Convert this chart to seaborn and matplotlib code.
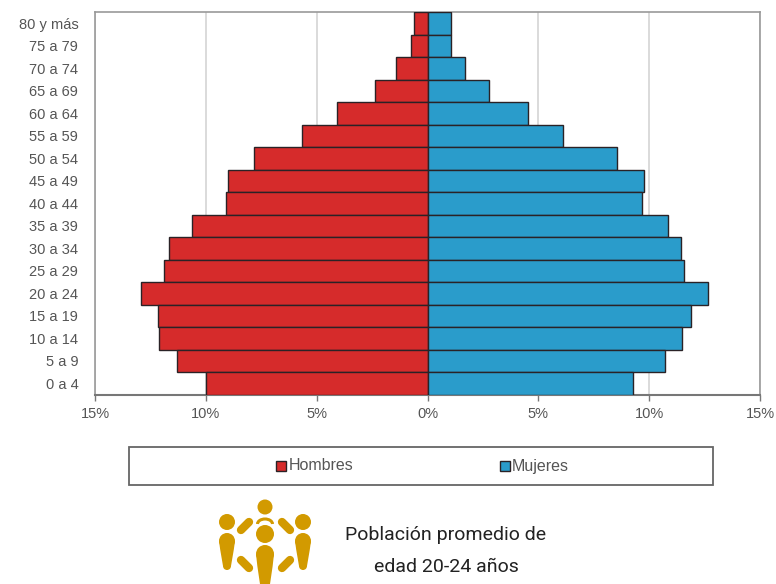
import matplotlib
matplotlib.use("Agg")
import matplotlib.pyplot as plt
from matplotlib.patches import Circle, Polygon, Rectangle, Arc
from matplotlib.lines import Line2D
import pandas as pd
import seaborn as sns

# Values, % of population
age_groups = ["80 y más", "75 a 79", "70 a 74", "65 a 69", "60 a 64", "55 a 59",
              "50 a 54", "45 a 49", "40 a 44", "35 a 39", "30 a 34", "25 a 29",
              "20 a 24", "15 a 19", "10 a 14", "5 a 9", "0 a 4"]
hombres = [0.6, 0.75, 1.4, 2.35, 4.07, 5.65, 7.83, 9.0, 9.1, 10.63, 11.67, 11.9,
           12.93, 12.17, 12.12, 11.3, 10.0]
mujeres = [1.05, 1.05, 1.7, 2.77, 4.54, 6.12, 8.56, 9.78, 9.69, 10.86, 11.45, 11.58,
           12.67, 11.9, 11.5, 10.73, 9.28]
x_ticks = [-15, -10, -5, 0, 5, 10, 15]
x_labels = ["15%", "10%", "5%", "0%", "5%", "10%", "15%"]

RED = "#d62b2b"
BLUE = "#2a9ccb"
GOLD = "#d29a00"
TEXT = "#555555"
W, H = 776, 584

sns.set_theme(style="white")
plt.rcParams["font.family"] = ["Liberation Sans", "DejaVu Sans"]

df = pd.DataFrame({
    "edad": age_groups * 2,
    "valor": [-v for v in hombres] + mujeres,
    "sexo": ["Hombres"] * len(hombres) + ["Mujeres"] * len(mujeres),
})

fig = plt.figure(figsize=(W / 100, H / 100), dpi=100)
ax = fig.add_axes([95 / W, 1 - 394.5 / H, 665 / W, 382.5 / H])
sns.barplot(data=df, x="valor", y="edad", hue="sexo", order=age_groups, orient="h",
            dodge=False, width=1.0, saturation=1, palette={"Hombres": RED, "Mujeres": BLUE},
            edgecolor="#2a2226", linewidth=1.0, legend=False, zorder=3, ax=ax)

ax.set_xlim(-15, 15)
ax.set_ylim(16.5, -0.5)
ax.set_xlabel("")
ax.set_ylabel("")
ax.set_xticks(x_ticks)
ax.set_xticklabels(x_labels)
ax.grid(axis="x", color="#d4d4d4", linewidth=1.2, zorder=0)
ax.grid(axis="y", visible=False)
ax.tick_params(axis="x", bottom=True, length=4, width=1, color="#777777",
               labelsize=10.5, labelcolor=TEXT, pad=5)
ax.tick_params(axis="y", left=False, labelsize=10.5, labelcolor=TEXT, pad=6)
for name, spine in ax.spines.items():
    spine.set_color("#999999")
    spine.set_linewidth(1.2)
ax.spines["bottom"].set_color("#777777")
ax.spines["bottom"].set_linewidth(1.5)

# overlay in pixel coordinates for legend box and icon
ov = fig.add_axes([0, 0, 1, 1], facecolor="none")
ov.set_xlim(0, W)
ov.set_ylim(H, 0)
ov.axis("off")
ov.add_patch(Rectangle((128.5, 446.5), 584, 38, facecolor="white", edgecolor="#666666", linewidth=1.3))

ov.add_patch(Rectangle((276, 461), 10, 10, facecolor=RED, edgecolor="#2a2226", linewidth=1))
ov.add_patch(Rectangle((500, 461), 10, 10, facecolor=BLUE, edgecolor="#2a2226", linewidth=1))
ov.text(288.5, 466, "Hombres", fontsize=11.5, color=TEXT, va="center")
ov.text(512, 466, "Mujeres", fontsize=11.5, color=TEXT, va="center")


def person(x, head_y, head_r, top, bottom, half):
    ov.add_patch(Circle((x, head_y), head_r, color=GOLD, lw=0))
    ov.add_patch(Circle((x, top + half), half, color=GOLD, lw=0))
    mid = top + (bottom - top) * 0.45
    foot = half * 0.5
    ov.add_patch(Polygon([(x - half, top + half), (x + half, top + half),
                          (x + half * 0.85, mid), (x + foot, bottom - foot),
                          (x - foot, bottom - foot), (x - half * 0.85, mid)],
                         color=GOLD, lw=0))
    ov.add_patch(Circle((x, bottom - foot), foot, color=GOLD, lw=0))


person(227, 522, 8, 533, 570, 8)
person(303, 522, 8, 533, 570, 8)
person(265, 534, 9, 545, 592, 9)
ov.add_patch(Circle((265, 507), 7.5, color=GOLD, lw=0))
ov.add_patch(Arc((265, 524), 15, 10, theta1=180, theta2=360, color=GOLD, lw=2.2))
for x0, y0, x1, y1 in [(241, 530, 249, 522), (282, 522, 290, 530),
                       (241, 560, 249, 568), (282, 568, 290, 560)]:
    ov.add_line(Line2D([x0, x1], [y0, y1], color=GOLD, lw=6, solid_capstyle="round"))

caption_font = ["Roboto", "DejaVu Sans"]
ov.text(446, 535, "Población promedio de", fontsize=14, color="#222222", ha="center",
        va="center", family=caption_font)
ov.text(446, 567, "edad 20-24 años", fontsize=14, color="#222222", ha="center",
        va="center", family=caption_font)

fig.savefig("out.png", dpi=100)
